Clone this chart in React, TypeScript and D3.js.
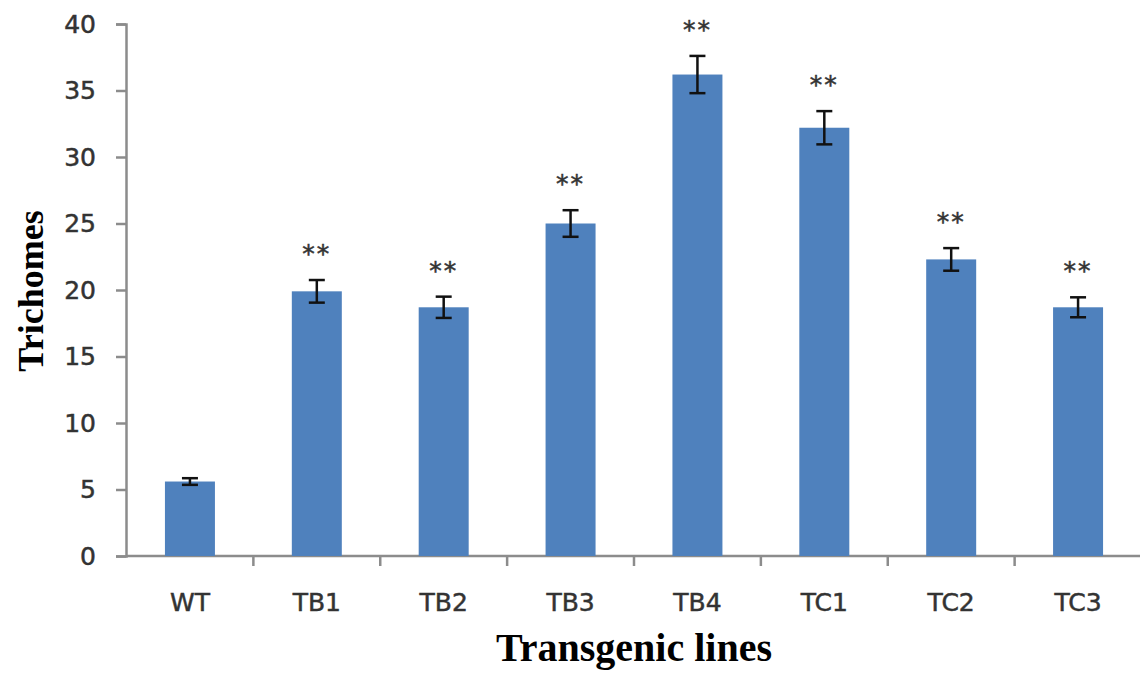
import React, { useEffect, useRef } from "react";
import * as d3 from "d3";

// values
const categories = ["WT", "TB1", "TB2", "TB3", "TB4", "TC1", "TC2", "TC3"];
const means = [5.6, 19.9, 18.7, 25.0, 36.2, 32.2, 22.3, 18.7];
const errors = [0.25, 0.85, 0.8, 1.0, 1.4, 1.25, 0.85, 0.75];
const marks = ["", "**", "**", "**", "**", "**", "**", "**"];
const yTicks = [0, 5, 10, 15, 20, 25, 30, 35, 40];

const W = 1140;
const H = 675;

const App = () => {
  const svgRef = useRef<SVGSVGElement>(null);

  useEffect(() => {
    const svg = d3.select(svgRef.current);
    svg.selectAll("*").remove();

    const left = 126;
    const top = 24;
    const bottom = 556;

    const y = d3.scaleLinear().domain([0, 40]).range([bottom, top]);
    const x = d3
      .scaleBand()
      .domain(categories)
      .range([left + 0.5, left + 1015.5])
      .paddingInner(0.606)
      .paddingOuter(0.303);

    const step = x.step();
    const bw = x.bandwidth();
    const rows = categories.map((c, i) => ({ c, v: means[i], e: errors[i], m: marks[i] }));

    const labelStyle = (sel: any) =>
      sel
        .attr("font-family", "DejaVu Sans")
        .attr("font-size", 25)
        .attr("fill", "#333")
        .attr("stroke", "#333")
        .attr("stroke-width", 0.5);

    // y axis
    const yAxis = svg
      .append("g")
      .attr("transform", `translate(${left},0)`)
      .call(d3.axisLeft(y).tickValues(yTicks).tickSize(10).tickPadding(20));
    yAxis.selectAll("path, line").attr("stroke", "#8c8c8c").attr("stroke-width", 2.5);
    labelStyle(yAxis.selectAll("text"));

    // x axis, ticks sit between categories
    const gx = svg.append("g");
    gx.append("line")
      .attr("x1", left)
      .attr("x2", W)
      .attr("y1", bottom)
      .attr("y2", bottom)
      .attr("stroke", "#8c8c8c")
      .attr("stroke-width", 2.5);
    gx.selectAll(".xt")
      .data(categories.slice(1))
      .enter()
      .append("line")
      .attr("x1", (d) => x(d)! + bw / 2 - step / 2)
      .attr("x2", (d) => x(d)! + bw / 2 - step / 2)
      .attr("y1", bottom)
      .attr("y2", bottom + 10)
      .attr("stroke", "#8c8c8c")
      .attr("stroke-width", 2.5);
    labelStyle(
      gx.selectAll(".xl")
        .data(categories)
        .enter()
        .append("text")
        .attr("x", (d) => x(d)! + bw / 2)
        .attr("y", bottom + 55)
        .attr("text-anchor", "middle")
        .text((d) => d)
    );

    // bars
    svg.selectAll(".bar")
      .data(rows)
      .enter()
      .append("rect")
      .attr("x", (d) => x(d.c)!)
      .attr("y", (d) => y(d.v))
      .attr("width", bw)
      .attr("height", (d) => bottom - y(d.v))
      .attr("fill", "#4f81bd");

    // error bars
    const eb = svg.append("g").attr("stroke", "#111").attr("stroke-width", 2.5);
    rows.forEach((d) => {
      const cx = x(d.c)! + bw / 2;
      eb.append("line").attr("x1", cx).attr("x2", cx).attr("y1", y(d.v + d.e)).attr("y2", y(d.v - d.e));
      [d.v + d.e, d.v - d.e].forEach((v) => {
        eb.append("line").attr("x1", cx - 8).attr("x2", cx + 8).attr("y1", y(v)).attr("y2", y(v));
      });
    });

    // significance marks
    labelStyle(
      svg.selectAll(".mk")
        .data(rows.filter((d) => d.m))
        .enter()
        .append("text")
        .attr("x", (d) => x(d.c)! + bw / 2)
        .attr("y", (d) => y(d.v + d.e) - 18)
        .attr("text-anchor", "middle")
        .attr("letter-spacing", 2)
        .text((d) => d.m)
    );

    // axis titles
    svg.append("text")
      .attr("x", 634)
      .attr("y", 661)
      .attr("text-anchor", "middle")
      .attr("font-family", "Liberation Serif")
      .attr("font-weight", "bold")
      .attr("font-size", 40)
      .attr("fill", "#000")
      .text("Transgenic lines");

    svg.append("text")
      .attr("transform", `translate(43,291) rotate(-90)`)
      .attr("text-anchor", "middle")
      .attr("font-family", "Liberation Serif")
      .attr("font-weight", "bold")
      .attr("font-size", 36)
      .attr("fill", "#000")
      .text("Trichomes");
  }, []);

  return (
    <svg
      ref={svgRef}
      width={W}
      height={H}
      style={{ position: "absolute", left: 0, top: 0, background: "#fff" }}
    ></svg>
  );
};

export default App;
